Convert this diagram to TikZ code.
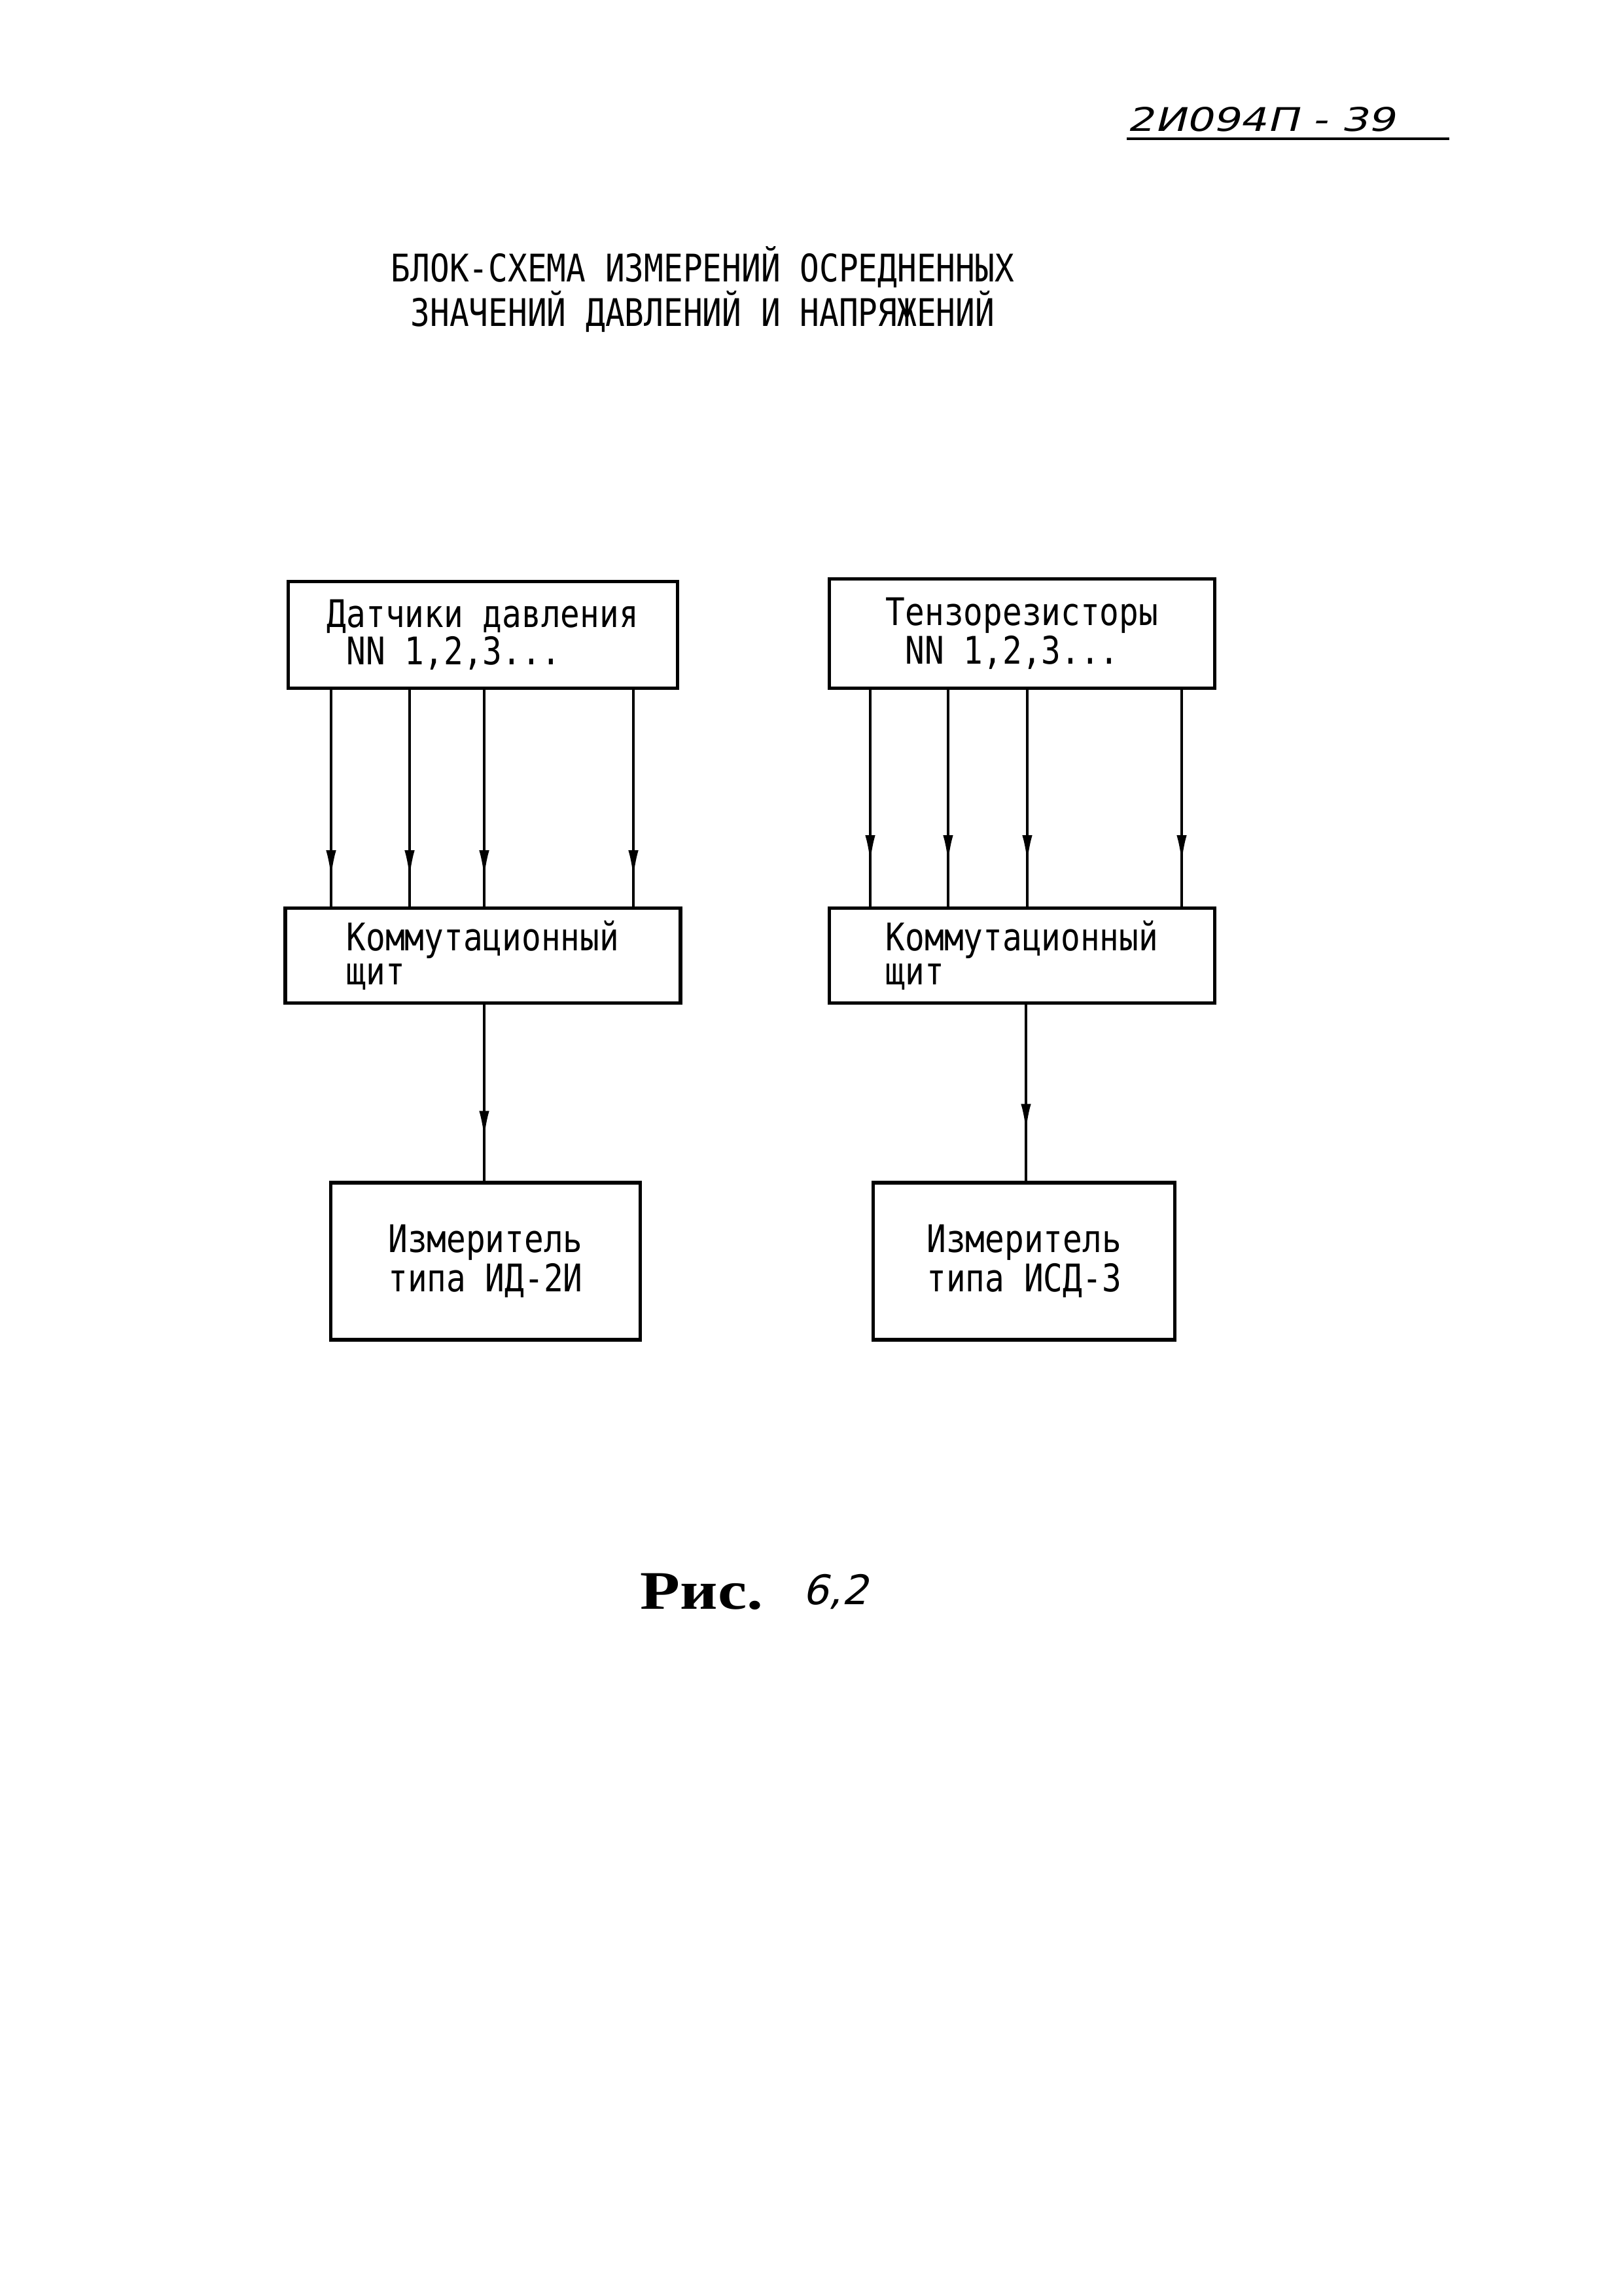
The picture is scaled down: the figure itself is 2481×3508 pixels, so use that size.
\documentclass[tikz,border=0pt]{standalone}
\usepackage{fontspec}
\newfontfamily\typew[FakeStretch=0.85]{DejaVu Sans Mono}
\newfontfamily\handw[FakeStretch=1.3,FakeSlant=0.25]{DejaVu Sans}
\newfontfamily\handwn[FakeSlant=0.25]{DejaVu Sans}
\newfontfamily\risfont[FakeStretch=1.2]{Liberation Serif}
\usetikzlibrary{arrows.meta,decorations.markings}

\tikzset{
  blok/.style={draw, line width=0.45mm, inner sep=0pt, align=left,
    font={\typew\fontsize{14pt}{12.5pt}\selectfont}},
  strelka/.style={line width=0.35mm, postaction={decorate},
    decoration={markings, mark=at position #1 with {\arrow{Latex[length=3.6mm,width=1.3mm]}}}}
}

\begin{document}
\begin{tikzpicture}[x=0.08464mm, y=-0.08464mm]
  \useasboundingbox (0,0) rectangle (2481,3508);

  % Шифр листа
  \node[font={\handw\fontsize{12pt}{14pt}\selectfont}, anchor=base west, inner sep=0pt]
    (shifr) at (1722,200) {2И094П - 39};
  \coordinate (podch) at (2215,212);
  \draw[line width=0.35mm] (shifr.base west |- podch) -- (podch);

  % Заголовок
  \node[font={\typew\fontsize{14pt}{12pt}\selectfont}, align=center] (zag) at (1074,442)
    {БЛОК-СХЕМА ИЗМЕРЕНИЙ ОСРЕДНЕННЫХ\\ЗНАЧЕНИЙ ДАВЛЕНИЙ И НАПРЯЖЕНИЙ};

  % Датчики
  \node[blok, minimum width=50.4mm, minimum height=13.8mm,
    font={\typew\fontsize{14pt}{10.8pt}\selectfont}] (dat) at (738,970)
    {Датчики давления\\~NN 1,2,3...};
  \node[blok, minimum width=49.9mm, minimum height=14.1mm,
    font={\typew\fontsize{14pt}{10.8pt}\selectfont}] (tenz) at (1562,968)
    {Тензорезисторы\\~NN 1,2,3...};

  % Коммутационные щиты
  \node[blok, minimum width=51.1mm, minimum height=12.3mm] (kom1) at (738,1460)
    {Коммутационный\\щит};
  \node[blok, minimum width=49.9mm, minimum height=12.3mm] (kom2) at (1562,1460)
    {Коммутационный\\щит};

  % Измерители
  \node[blok, minimum width=40mm, minimum height=20.3mm] (izm1) at (742,1927)
    {Измеритель\\типа ИД-2И};
  \node[blok, minimum width=39mm, minimum height=20.3mm] (izm2) at (1565,1927)
    {Измеритель\\типа ИСД-3};

  % Линии связи
  \foreach \x in {506,626,740,968}
    \draw[strelka=0.87] (\x,0 |- dat.south) -- (\x,0 |- kom1.north);
  \foreach \x in {1330,1449,1570,1806}
    \draw[strelka=0.8] (\x,0 |- tenz.south) -- (\x,0 |- kom2.north);
  \draw[strelka=0.76] (740,0 |- kom1.south) -- (740,0 |- izm1.north);
  \draw[strelka=0.72] (1568,0 |- kom2.south) -- (1568,0 |- izm2.north);

  % Подпись
  \node[font={\risfont\bfseries\fontsize{20pt}{22pt}\selectfont}, anchor=west, inner sep=0pt]
    (ris) at (978,2432) {Рис.};
  \node[font={\handwn\fontsize{15pt}{18pt}\selectfont}, anchor=west, inner sep=0pt]
    (nomer) at (1226,2432) {6,2};
\end{tikzpicture}
\end{document}
